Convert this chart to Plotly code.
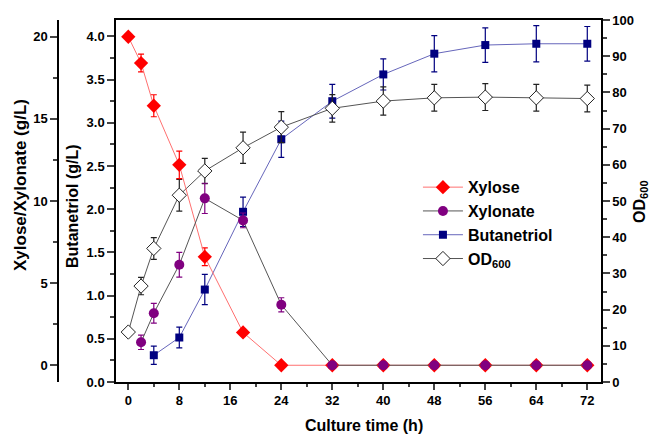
import plotly.graph_objects as go

# ---- data ----
time_xylose = [0, 2, 4, 8, 12, 18, 24, 32, 40, 48, 56, 64, 72]
xylose = [20.0, 18.4, 15.8, 12.2, 6.6, 2.0, 0, 0, 0, 0, 0, 0, 0]
xylose_err = [0.1, 0.54, 0.67, 0.84, 0.54, 0.2, 0.05, 0, 0, 0, 0, 0, 0]

time_xylonate = [2, 4, 8, 12, 18, 24, 32, 40, 48, 56, 64, 72]
xylonate = [1.4, 3.17, 6.12, 10.16, 8.82, 3.68, 0, 0, 0, 0, 0, 0]
xylonate_err = [0.44, 0.6, 0.75, 0.92, 0.45, 0.43, 0, 0, 0, 0, 0, 0]

time_btol = [4, 8, 12, 18, 24, 32, 40, 48, 56, 64, 72]
butanetriol = [0.31, 0.515, 1.07, 1.97, 2.81, 3.25, 3.56, 3.80, 3.90, 3.915, 3.915]
butanetriol_err = [0.106, 0.12, 0.175, 0.17, 0.21, 0.195, 0.18, 0.21, 0.2, 0.21, 0.2]

time_od = [0, 2, 4, 8, 12, 18, 24, 32, 40, 48, 56, 64, 72]
od600 = [13.8, 26.5, 36.9, 51.6, 58.3, 64.7, 70.4, 75.6, 77.6, 78.5, 78.7, 78.5, 78.3]
od600_err = [0.9, 2.4, 3.0, 4.4, 3.5, 4.3, 4.3, 3.8, 3.9, 3.7, 3.7, 3.7, 3.7]

x_ticks = list(range(0, 73, 8))

FONT = "Liberation Sans, Arial, sans-serif"

fig = go.Figure()

fig.add_trace(go.Scatter(
    x=time_od, y=od600, name="OD<sub>600</sub>", yaxis="y2", legendrank=4,
    mode="lines+markers",
    line=dict(color="#555555", width=1),
    marker=dict(symbol="diamond", size=11, color="white", line=dict(color="#222222", width=1)),
    error_y=dict(type="data", array=od600_err, color="#222222", thickness=1.2, width=3),
))
fig.add_trace(go.Scatter(
    x=time_btol, y=butanetriol, name="Butanetriol", yaxis="y", legendrank=3,
    mode="lines+markers",
    line=dict(color="#6666bb", width=1),
    marker=dict(symbol="square", size=8, color="#000080"),
    error_y=dict(type="data", array=butanetriol_err, color="#000080", thickness=1.2, width=3),
))
fig.add_trace(go.Scatter(
    x=time_xylose, y=xylose, name="Xylose", yaxis="y3", legendrank=1,
    mode="lines+markers",
    line=dict(color="#ff7070", width=1),
    marker=dict(symbol="diamond", size=11, color="#ff0000"),
    error_y=dict(type="data", array=xylose_err, color="#ff0000", thickness=1.2, width=3),
))
fig.add_trace(go.Scatter(
    x=time_xylonate, y=xylonate, name="Xylonate", yaxis="y3", legendrank=2,
    mode="lines+markers",
    line=dict(color="#555555", width=1),
    marker=dict(symbol="circle", size=10, color="#800080"),
    error_y=dict(type="data", array=xylonate_err, color="#800080", thickness=1.2, width=3),
))

tickfont = dict(family=FONT, size=13, color="black", weight="bold")

fig.update_layout(
    width=651, height=435,
    margin=dict(l=0, r=0, t=20, b=53),
    paper_bgcolor="white", plot_bgcolor="white",
    showlegend=True,
    legend=dict(x=0.642, y=0.585, xanchor="left", yanchor="top",
                font=dict(family=FONT, size=16, color="black", weight="bold"),
                bgcolor="rgba(0,0,0,0)", tracegroupgap=0, itemwidth=40),
    xaxis=dict(domain=[116/651, 601/651], range=[-1.93, 74.15],
               tickvals=x_ticks, ticks="outside", ticklen=6, tickwidth=1.5,
               minor=dict(dtick=4, tick0=0, ticks="outside", ticklen=3, tickwidth=1.5),
               showline=True, linecolor="black", linewidth=1.5, mirror=True,
               showgrid=False, zeroline=False, tickfont=tickfont),
    yaxis=dict(range=[0, 4.19], dtick=0.5, tickformat=".1f", ticks="outside", ticklen=7, tickwidth=1.5,
               minor=dict(dtick=0.25, ticks="outside", ticklen=4, tickwidth=1.5),
               showline=True, linecolor="black", linewidth=1.5,
               showgrid=False, zeroline=False, tickfont=tickfont, anchor="x"),
    yaxis2=dict(range=[0, 100], dtick=10, ticks="outside", ticklen=7, tickwidth=1.5,
                minor=dict(dtick=5, ticks="outside", ticklen=4, tickwidth=1.5),
                showline=True, linecolor="black", linewidth=1.5,
                showgrid=False, zeroline=False, tickfont=tickfont,
                overlaying="y", side="right", anchor="x"),
    yaxis3=dict(range=[-1.02, 21.02], tickvals=[0, 5, 10, 15, 20], ticks="outside", ticklen=7, tickwidth=1.5,
                minor=dict(tickvals=[2.5, 7.5, 12.5, 17.5], ticks="outside", ticklen=4, tickwidth=1.5),
                showline=True, linecolor="black", linewidth=1.5,
                showgrid=False, zeroline=False, tickfont=tickfont,
                overlaying="y", side="left", anchor="free", position=58/651),
)

def py(pix):
    return (382 - pix) / 362

fig.add_annotation(text="Xylose/Xylonate (g/L)", xref="paper", yref="paper",
                   x=20/651, y=py(185), textangle=-90, showarrow=False,
                   font=dict(family=FONT, size=17, color="black", weight="bold"),
                   xanchor="center", yanchor="middle")
fig.add_annotation(text="Butanetriol (g/L)", xref="paper", yref="paper",
                   x=72/651, y=py(206), textangle=-90, showarrow=False,
                   font=dict(family=FONT, size=16, color="black", weight="bold"),
                   xanchor="center", yanchor="middle")
fig.add_annotation(text="OD<sub>600</sub>", xref="paper", yref="paper",
                   x=641/651, y=py(202), textangle=-90, showarrow=False,
                   font=dict(family=FONT, size=16, color="black", weight="bold"),
                   xanchor="center", yanchor="middle")
fig.add_annotation(text="Culture time (h)", xref="paper", yref="paper",
                   x=364/651, y=py(426), showarrow=False,
                   font=dict(family=FONT, size=16, color="black", weight="bold"),
                   xanchor="center", yanchor="middle")

fig.write_html("out.html", config={"displayModeBar": False},
               post_script="document.body.style.margin='0';document.body.style.overflow='hidden';")
